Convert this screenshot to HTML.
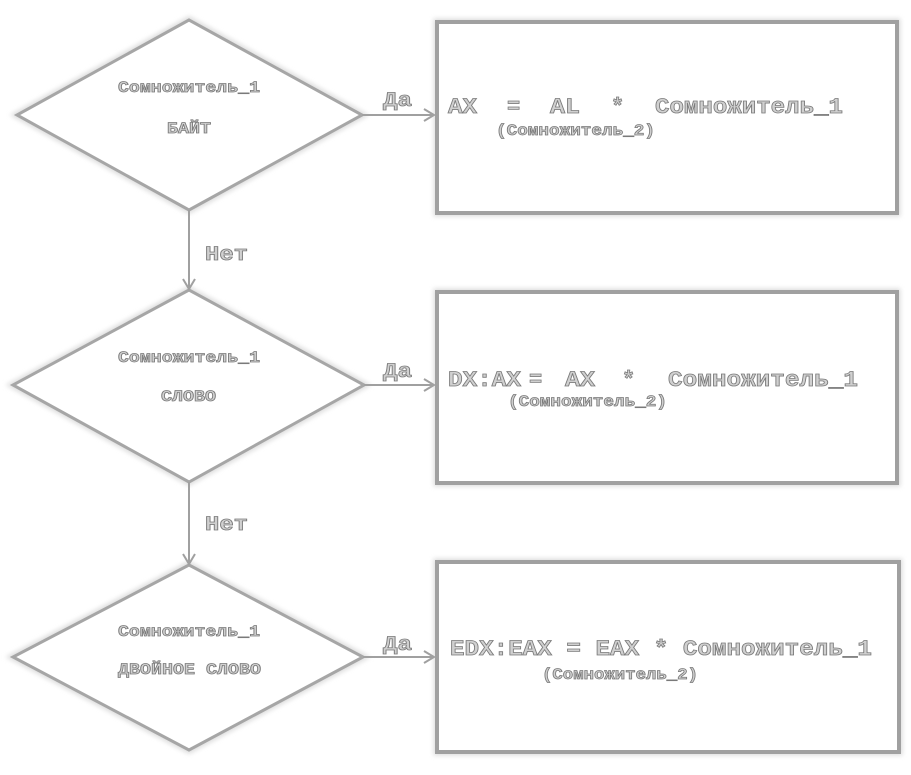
<!DOCTYPE html>
<html><head><meta charset="utf-8"><style>
html,body{margin:0;padding:0;background:#fff;}
svg{display:block}
text{font-family:"Liberation Mono","Courier New","DejaVu Sans Mono",monospace;font-weight:bold;fill:#d0d0d0;stroke:#7a7a7a;stroke-width:0.8px;}
</style></head><body>
<svg width="911" height="775" viewBox="0 0 911 775" xmlns="http://www.w3.org/2000/svg">
<defs>
<filter id="sh" x="-10%" y="-10%" width="120%" height="120%"><feGaussianBlur stdDeviation="2.5"/></filter>
</defs>
<g fill="none" stroke="#ddd" stroke-width="7" filter="url(#sh)">
<polygon points="189,20 17,115 189,210 362,115"/>
<polygon points="189,290 13,385 189,482 364,385"/>
<polygon points="189,565 13,657 189,750 363,657"/>
<rect x="437" y="22" width="460" height="191"/>
<rect x="437" y="292" width="460" height="191"/>
<rect x="437" y="562" width="462" height="190"/>
</g>
<g fill="#fff" stroke="#a6a6a6" stroke-width="3">
<polygon points="189,20 17,115 189,210 362,115"/>
<polygon points="189,290 13,385 189,482 364,385"/>
<polygon points="189,565 13,657 189,750 363,657"/>
</g>
<g fill="#fff" stroke="#a0a0a0" stroke-width="4">
<rect x="437" y="22" width="460" height="191"/>
<rect x="437" y="292" width="460" height="191"/>
<rect x="437" y="562" width="462" height="190"/>
</g>
<g stroke="#a0a0a0" stroke-width="2" fill="none">
<line x1="362" y1="115" x2="434" y2="115"/><polyline points="424,109 434,115 424,121"/>
<line x1="364" y1="385" x2="434" y2="385"/><polyline points="424,379 434,385 424,391"/>
<line x1="363" y1="657" x2="434" y2="657"/><polyline points="424,651 434,657 424,663"/>
<line x1="189" y1="210" x2="189" y2="289"/><polyline points="183,279 189,289 195,279"/>
<line x1="189" y1="482" x2="189" y2="564"/><polyline points="183,554 189,564 195,554"/>
</g>
<g font-size="16">
<text x="118" y="92" textLength="142" lengthAdjust="spacingAndGlyphs">Сомножитель_1</text>
<text x="167" y="133" textLength="44" lengthAdjust="spacingAndGlyphs">БАЙТ</text>
<text x="118" y="362" textLength="142" lengthAdjust="spacingAndGlyphs">Сомножитель_1</text>
<text x="161" y="401" textLength="55" lengthAdjust="spacingAndGlyphs">СЛОВО</text>
<text x="118" y="636" textLength="142" lengthAdjust="spacingAndGlyphs">Сомножитель_1</text>
<text x="118" y="674" textLength="143" lengthAdjust="spacingAndGlyphs">ДВОЙНОЕ СЛОВО</text>
</g>
<g font-size="20">
<text x="383" y="106" textLength="29" lengthAdjust="spacingAndGlyphs">Да</text>
<text x="383" y="377" textLength="29" lengthAdjust="spacingAndGlyphs">Да</text>
<text x="383" y="650" textLength="29" lengthAdjust="spacingAndGlyphs">Да</text>
<text x="205" y="260" textLength="43" lengthAdjust="spacingAndGlyphs">Нет</text>
<text x="205" y="530" textLength="43" lengthAdjust="spacingAndGlyphs">Нет</text>
</g>
<g font-size="22">
<text x="448" y="113" textLength="29" lengthAdjust="spacingAndGlyphs">AX</text>
<text x="507" y="113">=</text>
<text x="550" y="113" textLength="30" lengthAdjust="spacingAndGlyphs">AL</text>
<text x="611" y="113">*</text>
<text x="655" y="113" textLength="188" lengthAdjust="spacingAndGlyphs">Сомножитель_1</text>

<text x="448" y="386" textLength="73" lengthAdjust="spacingAndGlyphs">DX:AX</text>
<text x="529" y="386">=</text>
<text x="565" y="386" textLength="30" lengthAdjust="spacingAndGlyphs">AX</text>
<text x="622" y="386">*</text>
<text x="668" y="386" textLength="190" lengthAdjust="spacingAndGlyphs">Сомножитель_1</text>

<text x="450" y="655" textLength="422" lengthAdjust="spacingAndGlyphs">EDX:EAX = EAX * Сомножитель_1</text>
</g>
<g font-size="16">
<text x="496" y="135" textLength="159" lengthAdjust="spacingAndGlyphs">(Сомножитель_2)</text>
<text x="508" y="406" textLength="159" lengthAdjust="spacingAndGlyphs">(Сомножитель_2)</text>
<text x="542" y="679" textLength="156" lengthAdjust="spacingAndGlyphs">(Сомножитель_2)</text>
</g>
</svg>
</body></html>
